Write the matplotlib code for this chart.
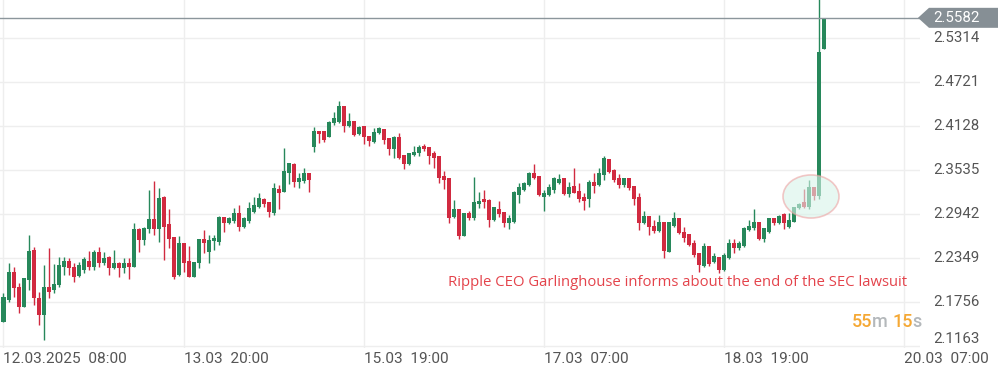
import matplotlib.pyplot as plt
from matplotlib.patches import Ellipse, Polygon
from matplotlib.transforms import IdentityTransform, blended_transform_factory
import numpy as np

plt.rcParams['font.family'] = ['Roboto', 'DejaVu Sans']

# hourly candles, XRP/USD
OPEN = [
    2.149, 2.178, 2.216, 2.196, 2.169, 2.205, 2.246, 2.181, 2.158, 2.196,
    2.192, 2.198, 2.223, 2.231, 2.223, 2.211, 2.219, 2.231, 2.223, 2.243,
    2.228, 2.236, 2.221, 2.228, 2.221, 2.228, 2.223, 2.274, 2.259, 2.274,
    2.287, 2.274, 2.317, 2.281, 2.263, 2.212, 2.255, 2.231, 2.209, 2.228,
    2.260, 2.243, 2.258, 2.256, 2.290, 2.282, 2.285, 2.295, 2.277, 2.285,
    2.297, 2.303, 2.314, 2.310, 2.295, 2.328, 2.323, 2.349, 2.361, 2.337,
    2.338, 2.349, 2.384, 2.406, 2.406, 2.398, 2.417, 2.418, 2.440, 2.413,
    2.419, 2.402, 2.413, 2.399, 2.391, 2.403, 2.408, 2.396, 2.382, 2.398,
    2.373, 2.361, 2.373, 2.376, 2.386, 2.384, 2.376, 2.372, 2.345, 2.342,
    2.290, 2.301, 2.264, 2.295, 2.289, 2.307, 2.314, 2.313, 2.286, 2.301,
    2.297, 2.282, 2.283, 2.320, 2.326, 2.333, 2.349, 2.345, 2.317, 2.320,
    2.326, 2.336, 2.342, 2.321, 2.332, 2.325, 2.317, 2.314, 2.337, 2.333,
    2.347, 2.368, 2.353, 2.342, 2.333, 2.342, 2.332, 2.317, 2.282, 2.291,
    2.278, 2.271, 2.283, 2.243, 2.278, 2.289, 2.270, 2.267, 2.255, 2.241,
    2.224, 2.251, 2.229, 2.236, 2.218, 2.235, 2.255, 2.248, 2.251, 2.272,
    2.275, 2.283, 2.260, 2.270, 2.289, 2.282, 2.294, 2.277, 2.283, 2.302,
    2.310, 2.303, 2.330, 2.318, 2.516]
HIGH = [
    2.188, 2.228, 2.223, 2.201, 2.208, 2.266, 2.250, 2.189, 2.225, 2.248,
    2.227, 2.236, 2.236, 2.235, 2.228, 2.229, 2.236, 2.244, 2.246, 2.250,
    2.243, 2.237, 2.246, 2.229, 2.235, 2.235, 2.282, 2.275, 2.277, 2.326,
    2.338, 2.329, 2.318, 2.301, 2.263, 2.264, 2.255, 2.251, 2.229, 2.260,
    2.272, 2.266, 2.266, 2.291, 2.290, 2.290, 2.302, 2.306, 2.290, 2.310,
    2.317, 2.322, 2.316, 2.310, 2.336, 2.333, 2.383, 2.363, 2.363, 2.349,
    2.356, 2.349, 2.411, 2.406, 2.406, 2.419, 2.431, 2.446, 2.440, 2.430,
    2.419, 2.413, 2.413, 2.399, 2.410, 2.411, 2.408, 2.396, 2.399, 2.403,
    2.373, 2.376, 2.386, 2.387, 2.388, 2.384, 2.379, 2.372, 2.352, 2.342,
    2.313, 2.301, 2.295, 2.298, 2.344, 2.324, 2.326, 2.314, 2.303, 2.311,
    2.297, 2.293, 2.325, 2.336, 2.337, 2.351, 2.361, 2.345, 2.326, 2.334,
    2.344, 2.348, 2.342, 2.337, 2.356, 2.336, 2.322, 2.340, 2.349, 2.356,
    2.372, 2.368, 2.355, 2.348, 2.342, 2.342, 2.332, 2.322, 2.298, 2.291,
    2.286, 2.293, 2.283, 2.283, 2.297, 2.289, 2.276, 2.267, 2.259, 2.241,
    2.255, 2.251, 2.241, 2.236, 2.241, 2.260, 2.260, 2.258, 2.277, 2.286,
    2.301, 2.283, 2.275, 2.289, 2.289, 2.293, 2.295, 2.295, 2.303, 2.309,
    2.328, 2.340, 2.330, 2.589, 2.558]
LOW = [
    2.149, 2.176, 2.182, 2.161, 2.169, 2.192, 2.172, 2.145, 2.124, 2.181,
    2.188, 2.196, 2.212, 2.212, 2.202, 2.209, 2.215, 2.219, 2.219, 2.223,
    2.225, 2.212, 2.220, 2.209, 2.215, 2.207, 2.223, 2.243, 2.252, 2.269,
    2.266, 2.256, 2.232, 2.248, 2.207, 2.211, 2.216, 2.209, 2.209, 2.221,
    2.242, 2.228, 2.246, 2.252, 2.270, 2.281, 2.282, 2.271, 2.275, 2.282,
    2.295, 2.302, 2.303, 2.290, 2.293, 2.301, 2.323, 2.334, 2.330, 2.329,
    2.336, 2.323, 2.377, 2.390, 2.391, 2.398, 2.414, 2.417, 2.404, 2.411,
    2.399, 2.400, 2.388, 2.386, 2.390, 2.402, 2.388, 2.373, 2.369, 2.368,
    2.355, 2.360, 2.372, 2.372, 2.379, 2.361, 2.356, 2.336, 2.328, 2.282,
    2.289, 2.260, 2.264, 2.286, 2.286, 2.302, 2.302, 2.277, 2.285, 2.290,
    2.277, 2.274, 2.282, 2.309, 2.325, 2.332, 2.341, 2.318, 2.298, 2.318,
    2.322, 2.334, 2.320, 2.317, 2.322, 2.310, 2.299, 2.303, 2.322, 2.332,
    2.340, 2.349, 2.337, 2.329, 2.330, 2.326, 2.306, 2.272, 2.281, 2.266,
    2.268, 2.270, 2.235, 2.243, 2.276, 2.267, 2.256, 2.251, 2.236, 2.216,
    2.223, 2.224, 2.228, 2.214, 2.217, 2.233, 2.241, 2.246, 2.250, 2.271,
    2.272, 2.259, 2.256, 2.268, 2.279, 2.281, 2.274, 2.275, 2.283, 2.301,
    2.302, 2.301, 2.313, 2.314, 2.516]
CLOSE = [
    2.182, 2.216, 2.194, 2.169, 2.208, 2.244, 2.181, 2.158, 2.196, 2.189,
    2.200, 2.225, 2.231, 2.221, 2.209, 2.225, 2.233, 2.223, 2.243, 2.228,
    2.235, 2.221, 2.228, 2.221, 2.228, 2.223, 2.274, 2.259, 2.275, 2.287,
    2.274, 2.316, 2.277, 2.260, 2.209, 2.255, 2.228, 2.209, 2.229, 2.260,
    2.255, 2.259, 2.262, 2.290, 2.282, 2.289, 2.295, 2.277, 2.289, 2.302,
    2.306, 2.316, 2.307, 2.297, 2.329, 2.322, 2.352, 2.363, 2.337, 2.342,
    2.349, 2.340, 2.406, 2.402, 2.394, 2.418, 2.423, 2.440, 2.413, 2.419,
    2.400, 2.411, 2.398, 2.392, 2.404, 2.410, 2.394, 2.382, 2.398, 2.369,
    2.361, 2.376, 2.377, 2.384, 2.382, 2.372, 2.369, 2.342, 2.340, 2.289,
    2.301, 2.264, 2.295, 2.289, 2.310, 2.311, 2.310, 2.286, 2.303, 2.294,
    2.282, 2.289, 2.323, 2.330, 2.336, 2.349, 2.342, 2.320, 2.322, 2.330,
    2.342, 2.341, 2.321, 2.330, 2.322, 2.314, 2.311, 2.337, 2.332, 2.349,
    2.369, 2.350, 2.340, 2.333, 2.342, 2.329, 2.314, 2.282, 2.291, 2.276,
    2.271, 2.283, 2.244, 2.283, 2.289, 2.268, 2.262, 2.252, 2.239, 2.225,
    2.251, 2.227, 2.237, 2.218, 2.239, 2.255, 2.248, 2.255, 2.275, 2.278,
    2.283, 2.260, 2.275, 2.289, 2.282, 2.291, 2.282, 2.286, 2.303, 2.307,
    2.303, 2.330, 2.318, 2.512, 2.5582]

LAST_PRICE = 2.5582
Y_TICKS = [2.1163, 2.1756, 2.2349, 2.2942, 2.3535, 2.4128, 2.4721, 2.5314]
X_TICK_POS = [0, 36, 72, 108, 144, 180]
X_TICK_LABELS = ['12.03.2025  08:00', '13.03  20:00', '15.03  19:00',
                 '17.03  07:00', '18.03  19:00', '20.03  07:00']
NEWS = 'Ripple CEO Garlinghouse informs about the end of the SEC lawsuit'

GREEN = '#27885b'
RED = '#d12a40'
GREY_TXT = '#555555'

fig = plt.figure(figsize=(9.98, 3.74), dpi=100)
ax = fig.add_axes([0, 1 - 348 / 374, 920 / 998, 348 / 374])

o, h, l, c = (np.array(a) for a in (OPEN, HIGH, LOW, CLOSE))
x = np.arange(len(o))
cols = np.where(c >= o, GREEN, RED)

ax.vlines(x, l, h, colors=cols, lw=1, zorder=2)
ax.bar(x, np.maximum(np.abs(c - o), 0.0008), bottom=np.minimum(o, c),
       width=0.8, color=cols, linewidth=0, zorder=3)

ax.set_xlim(-0.7, 183.3)
ax.set_ylim(2.1136, 2.5822)

# highlighted spike zone
ax.add_patch(Ellipse((161.5, 2.3176), 11.2, 0.058, facecolor='#d8f4ea',
                     alpha=0.6, edgecolor='#eda3a3', lw=1.2, zorder=5))

ax.axhline(LAST_PRICE, color='#8c969c', lw=1, zorder=4)

ax.set_xticks(X_TICK_POS, X_TICK_LABELS)
for lab in ax.get_xticklabels():
    lab.set_horizontalalignment('left')
ax.tick_params(axis='x', length=0, pad=3, labelsize=11.1, labelcolor=GREY_TXT)
ax.set_yticks(Y_TICKS)
ax.tick_params(axis='y', length=0, labelleft=False)
ax.grid(color='#eeeeee', lw=1)
ax.set_axisbelow(True)
for s in ax.spines.values():
    s.set_visible(False)

trans = blended_transform_factory(ax.transAxes, ax.transData)
for v in Y_TICKS:
    ax.text(1 + 13 / 920, v, f'{v:.4f}', transform=trans, ha='left',
            va='bottom' if v == Y_TICKS[0] else 'center',
            fontsize=10.8, color=GREY_TXT, clip_on=False)

# price tag on the right
fig.canvas.draw()
x0 = ax.transAxes.transform((1, 0))[0]
yp = ax.transData.transform((0, LAST_PRICE))[1]
tag = Polygon([(x0 - 2, yp), (x0 + 9, yp + 10), (998, yp + 10),
               (998, yp - 10), (x0 + 9, yp - 10)], closed=True,
              facecolor='#868f95', edgecolor='none',
              transform=IdentityTransform())
fig.add_artist(tag)
fig.text((x0 + 13) / 998, yp / 374, f'{LAST_PRICE:.4f}', ha='left',
         va='center', fontsize=10.8, color='white')

ax.text(907 / 920, 1 - 283 / 348, NEWS, transform=ax.transAxes, ha='right',
        va='center', fontsize=10.7, color='#e4434b', family='Open Sans')

# countdown
ORANGE = '#f5a834'
LIGHT = '#b4b8bb'
for xp, s, col in [(852, '55', ORANGE), (872, 'm', LIGHT),
                   (893, '15', ORANGE), (912, 's', LIGHT)]:
    fig.text(xp / 998, 1 - 322 / 374, s, ha='left', va='center',
             fontsize=13, color=col, fontweight='medium')

fig.savefig('out.png', dpi=100)
